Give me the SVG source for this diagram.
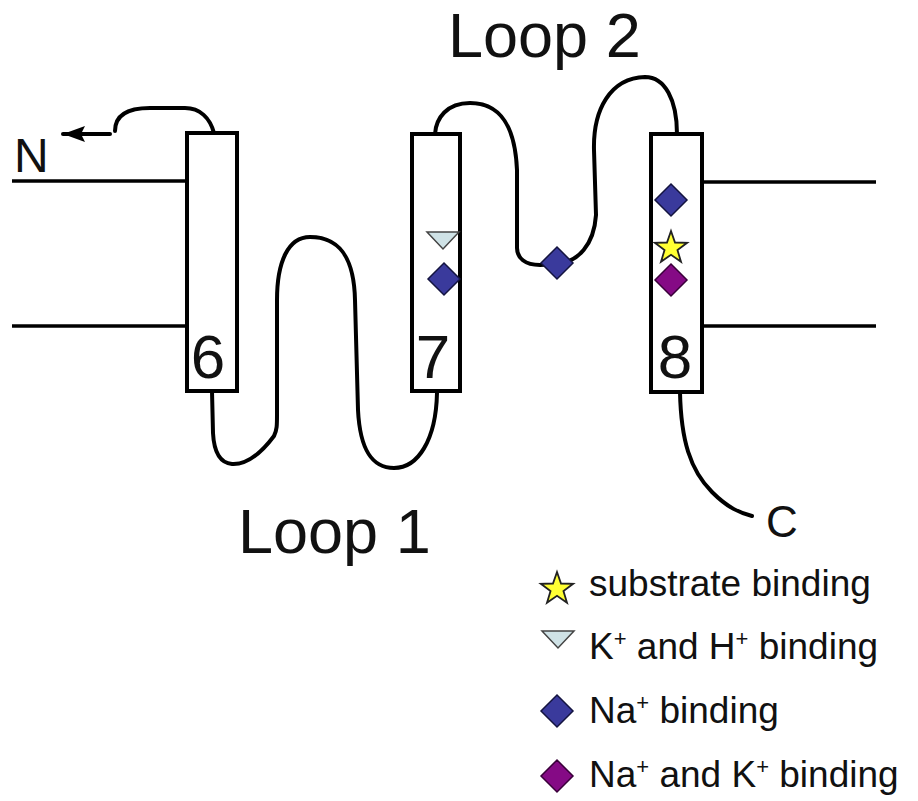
<svg xmlns="http://www.w3.org/2000/svg" width="918" height="801" viewBox="0 0 918 801">
<style>
  .tm { fill: #ffffff; stroke: #000; stroke-width: 4; }
  .mem { stroke: #000; stroke-width: 3.5; fill: none; }
  .chain { stroke: #000; stroke-width: 4; fill: none; stroke-linecap: round; stroke-linejoin: round; }
  .big { font-family: "Liberation Sans", Arial, sans-serif; font-size: 63px; fill: #111; }
  .num { font-family: "Liberation Sans", Arial, sans-serif; font-size: 62px; fill: #111; text-anchor: middle; }
  .term { font-family: "Liberation Sans", Arial, sans-serif; fill: #111; }
  .leg { font-family: "Liberation Sans", Arial, sans-serif; font-size: 37px; fill: #111; }
  .na { fill: #3a3a9c; stroke: #141440; stroke-width: 1.5; }
  .nak { fill: #850a85; stroke: #3a003a; stroke-width: 1.5; }
  .kh { fill: #cfe2e6; stroke: #444; stroke-width: 1.5; }
  .sub { fill: #ffff33; stroke: #222; stroke-width: 1.8; stroke-linejoin: miter; }
</style>
<defs>
  <polygon id="diamond" points="0,-16 16,0 0,16 -16,0"/>
  <polygon id="tri" points="-16,-8 16,-8 0,9"/>
  <polygon id="star" points="0,-17 4,-5.5 16.17,-5.25 6.46,2.1 10,13.75 0,6.8 -10,13.75 -6.46,2.1 -16.17,-5.25 -4,-5.5"/>
  <marker id="arrow" viewBox="0 0 22 16" refX="22" refY="8" markerWidth="22" markerHeight="16" markerUnits="userSpaceOnUse" orient="auto">
    <path d="M0,0 L22,8 L0,16 L4,8 Z" fill="#000"/>
  </marker>
</defs>

<g id="membrane">
  <line class="mem" x1="12" y1="181" x2="187" y2="181"/>
  <line class="mem" x1="12" y1="326" x2="187" y2="326"/>
  <line class="mem" x1="702" y1="182" x2="876" y2="182"/>
  <line class="mem" x1="702" y1="326" x2="876" y2="326"/>
</g>

<g id="connectors">
  <line class="chain" x1="110" y1="134" x2="63" y2="134" stroke-linecap="butt" stroke-width="3" marker-end="url(#arrow)"/>
  <path class="chain" d="M115,131 C115,116 126,108 150,108 L185,108 C200,108 210,118 214,133"/>
  <path class="chain" d="M212,391 L213,433 C214,452 220,463 232,464 C248,465 262,452 274,436 C277,430 277,425 277,415 L277,300 C277,262 288,237 310,237 C338,237 354,255 355,300 L358,410 C360,450 372,468 394,468 C418,468 436,440 437,393"/>
  <path class="chain" d="M435,134 C436,118 447,103 470,103 C500,103 515,125 517,170 L517,248 C517,258 525,265 540,265 L557,264 C578,262 594,245 596,215 L594,150 C593,110 610,78 645,77 C665,77 677,100 677,134"/>
  <path class="chain" d="M680,392 C681,440 690,470 712,492 C728,508 740,513 752,516"/>
</g>

<g id="tm6">
  <rect class="tm" x="187" y="133" width="50" height="258"/>
  <text class="num" x="208" y="378">6</text>
</g>
<g id="tm7">
  <rect class="tm" x="412" y="134" width="48" height="257"/>
  <use href="#tri" class="kh" x="443" y="240"/>
  <use href="#diamond" class="na" x="444" y="279"/>
  <text class="num" x="433" y="378">7</text>
</g>
<g id="loop2-site">
  <use href="#diamond" class="na" x="557" y="263"/>
</g>
<g id="tm8">
  <rect class="tm" x="651" y="134" width="51" height="258"/>
  <use href="#diamond" class="na" x="671" y="200"/>
  <use href="#diamond" class="nak" x="671" y="280"/>
  <use href="#star" class="sub" x="671" y="248"/>
  <text class="num" x="675" y="378">8</text>
</g>

<g id="labels">
  <text class="big" x="448" y="57">Loop 2</text>
  <text class="big" x="238" y="553">Loop 1</text>
  <text class="term" x="14" y="172" font-size="48">N</text>
  <text class="term" x="766" y="537" font-size="44">C</text>
</g>

<g id="legend">
  <g id="leg-sub">
    <use href="#star" class="sub" x="557" y="589"/>
    <text class="leg" x="589" y="596">substrate binding</text>
  </g>
  <g id="leg-kh">
    <use href="#tri" class="kh" x="558" y="639"/>
    <text class="leg" x="589" y="659">K<tspan font-size="22" dy="-13">+</tspan><tspan dy="13"> and H</tspan><tspan font-size="22" dy="-13">+</tspan><tspan dy="13"> binding</tspan></text>
  </g>
  <g id="leg-na">
    <use href="#diamond" class="na" x="557" y="711"/>
    <text class="leg" x="589" y="723">Na<tspan font-size="22" dy="-13">+</tspan><tspan dy="13"> binding</tspan></text>
  </g>
  <g id="leg-nak">
    <use href="#diamond" class="nak" x="557" y="776"/>
    <text class="leg" x="589" y="787">Na<tspan font-size="22" dy="-13">+</tspan><tspan dy="13"> and K</tspan><tspan font-size="22" dy="-13">+</tspan><tspan dy="13"> binding</tspan></text>
  </g>
</g>
</svg>
